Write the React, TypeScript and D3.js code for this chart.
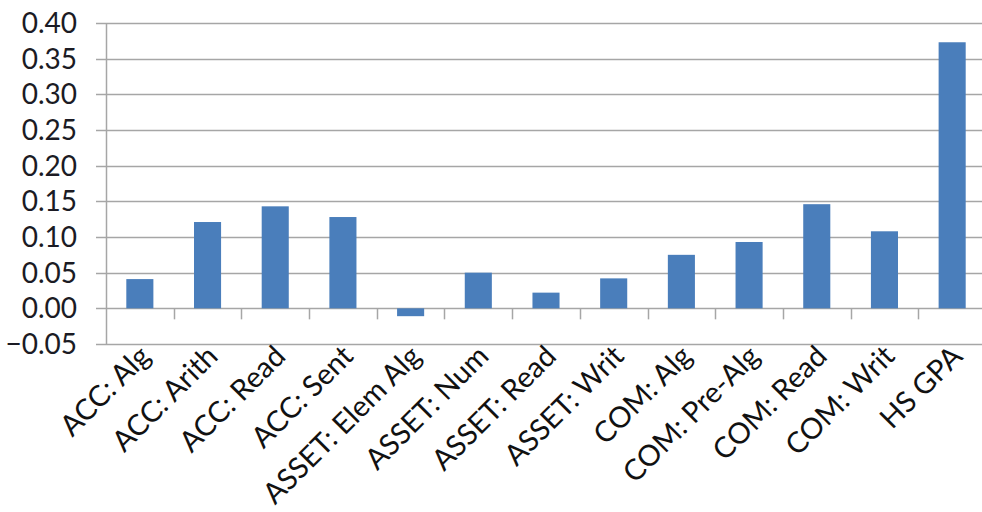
import * as d3 from "d3";
import { useEffect, useRef } from "react";

const categories = [
  "ACC: Alg", "ACC: Arith", "ACC: Read", "ACC: Sent", "ASSET: Elem Alg",
  "ASSET: Num", "ASSET: Read", "ASSET: Writ", "COM: Alg", "COM: Pre-Alg",
  "COM: Read", "COM: Writ", "HS GPA",
];
const values = [0.041, 0.121, 0.143, 0.128, -0.011, 0.05, 0.022, 0.042, 0.075, 0.093, 0.146, 0.108, 0.373];
const yTicks = [-0.05, 0, 0.05, 0.1, 0.15, 0.2, 0.25, 0.3, 0.35, 0.4];

export default function App() {
  const svgRef = useRef<SVGSVGElement>(null);

  const width = 982;
  const height = 512;
  const margin = { top: 23, right: -4, left: 106, bottom: 168 };

  useEffect(() => {
    const svg = d3.select(svgRef.current);
    svg.selectAll("*").remove();

    const font = "Lato, 'Open Sans', sans-serif";
    const gridColor = "#a6a6a6";

    const x = d3.scaleBand()
      .domain(categories)
      .range([margin.left, width - margin.right])
      .paddingInner(0.6)
      .paddingOuter(0.3);

    const y = d3.scaleLinear()
      .domain([-0.05, 0.4])
      .range([height - margin.bottom, margin.top]);

    const step = x.step();

    // gridlines
    svg.append("g")
      .selectAll("line")
      .data(yTicks)
      .enter().append("line")
      .attr("x1", margin.left - 10)
      .attr("x2", width)
      .attr("y1", d => Math.round(y(d)) + 0.5)
      .attr("y2", d => Math.round(y(d)) + 0.5)
      .attr("stroke", gridColor)
      .attr("stroke-width", 1.5);

    // y axis line
    svg.append("line")
      .attr("x1", margin.left + 0.5)
      .attr("x2", margin.left + 0.5)
      .attr("y1", y(0.4))
      .attr("y2", y(-0.05))
      .attr("stroke", gridColor)
      .attr("stroke-width", 1.5);

    // category ticks on zero line
    svg.append("g")
      .selectAll("line")
      .data(categories.slice(1))
      .enter().append("line")
      .attr("x1", d => Math.round(x(d)! - step * 0.3) + 0.5)
      .attr("x2", d => Math.round(x(d)! - step * 0.3) + 0.5)
      .attr("y1", y(0))
      .attr("y2", y(0) + 11)
      .attr("stroke", gridColor)
      .attr("stroke-width", 1.5);

    // bars
    svg.append("g")
      .selectAll("rect")
      .data(values)
      .enter().append("rect")
      .attr("x", (d, i) => x(categories[i])!)
      .attr("width", x.bandwidth())
      .attr("y", d => y(Math.max(0, d)))
      .attr("height", d => Math.abs(y(d) - y(0)))
      .attr("fill", "#4a7ebb");

    // y labels
    svg.append("g")
      .selectAll("text")
      .data(yTicks)
      .enter().append("text")
      .attr("x", 77)
      .attr("y", d => y(d))
      .attr("dy", "0.36em")
      .attr("text-anchor", "end")
      .attr("font-family", font)
      .attr("font-size", 28)
      .attr("fill", "#1b1b24")
      .text(d => d3.format(".2f")(d));

    // x labels
    svg.append("g")
      .selectAll("text")
      .data(categories)
      .enter().append("text")
      .attr("transform", d => `translate(${x(d)! + x.bandwidth() / 2 + 12},${y(-0.05) + 14}) rotate(-45)`)
      .attr("text-anchor", "end")
      .attr("font-family", font)
      .attr("font-size", 29)
      .attr("fill", "#111")
      .text(d => d);
  }, []);

  return (
    <svg
      ref={svgRef}
      width={width}
      height={height}
      style={{ position: "absolute", left: 0, top: 0, background: "#fff" }}
    />
  );
}
